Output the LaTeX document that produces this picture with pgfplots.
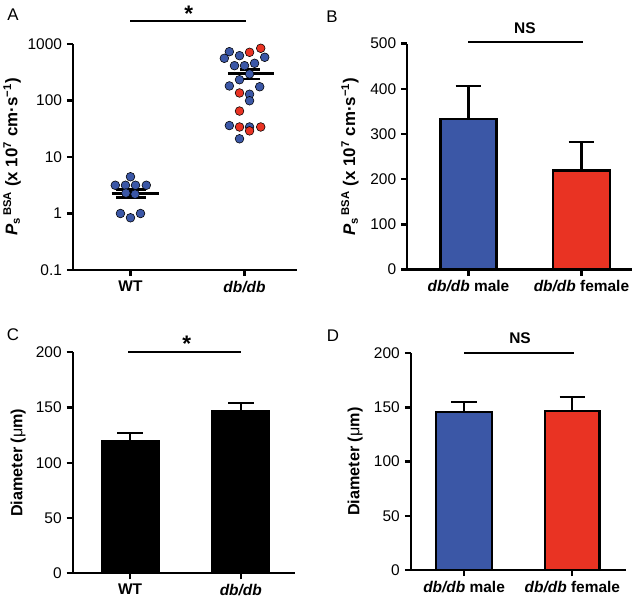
\documentclass[border=0pt]{standalone}
\usepackage{fontspec}
\setmainfont{Liberation Sans}
\usepackage{pgfplots}
\pgfplotsset{compat=1.18}
\definecolor{dbblue}{RGB}{59,87,166}
\definecolor{dbred}{RGB}{233,51,35}

\pgfplotsset{
  panel/.style={
    scale only axis,
    anchor=south west,
    axis lines=left,
    axis line style={-, line width=1.6pt},
    tick style={line width=1.6pt, black},
    tick align=outside,
    major tick length=4.3pt,
    enlargelimits=false,
    clip=false,
    xtick={1,2},
    ticklabel style={font=\fontsize{11}{13}\selectfont},
    label style={font=\fontsize{11.5}{13}\selectfont\bfseries},
    /pgf/number format/assume math mode=true,
  },
  barplot/.style={
    ybar, bar shift=0pt, draw=black, line width=1.6pt,
    /pgfplots/error bars/y dir=plus,
    /pgfplots/error bars/y explicit,
    /pgfplots/error bars/error bar style={line width=1.6pt, black},
    /pgfplots/error bars/error mark options={line width=1.6pt, black, mark size=0.32cm, rotate=90},
  },
}
\newcommand{\psbsa}{\textit{P}\textsubscript{s}\textsuperscript{\,BSA} (x 10\textsuperscript{7} cm·s\textsuperscript{−1})}
\newcommand{\dbdb}{\textbf{\textit{db/db}}}

\begin{document}
\begin{tikzpicture}
\path[use as bounding box] (0,0) rectangle (16cm,15cm);

% A
\begin{axis}[panel,
    at={(1.825cm,8.25cm)}, width=5.6cm, height=5.65cm,
    ymode=log, ymin=0.1, ymax=1000, xmin=0.496, xmax=2.46,
    ytick={0.1,1,10,100,1000}, yticklabels={0.1,1,10,100,1000},
    yminorticks=false,
    xticklabels={\textbf{WT},\dbdb},
    ylabel={\psbsa},
    ylabel style={at={(axis description cs:-0.272,0.5)}, anchor=center, font=\fontsize{12}{14}\selectfont\bfseries},
  ]
  \addplot[only marks, mark=*, mark size=3.1pt, mark options={fill=dbblue, draw=none}] coordinates {
    (1.0,4.47) (0.867,3.16) (0.956,3.16) (1.044,3.16) (1.139,3.16)
    (0.96,2.3) (1.04,2.2) (0.912,1.0) (1.088,1.0) (1.0,0.84)
    (1.867,731) (1.823,558) (1.956,621) (2.177,582) (1.912,413)
    (2.0,413) (2.088,455) (2.044,294) (1.956,233) (1.867,181)
    (2.133,175) (2.044,129) (2.044,99) (1.867,36) (2.044,34) (1.956,21)
  };
  \addplot[only marks, mark=*, mark size=3.1pt, mark options={fill=dbred, draw=none}] coordinates {
    (2.044,713) (2.142,840) (1.956,136) (1.956,65) (1.956,34) (2.044,29) (2.142,34)
  };
  \addplot[black, line width=2.2pt] coordinates {(0.835,2.3) (1.248,2.3)};
  \addplot[black, line width=2pt] coordinates {(0.872,2.66) (1.137,2.66)};
  \addplot[black, line width=2pt] coordinates {(0.872,1.9) (1.137,1.9)};
  \addplot[black, line width=2pt] coordinates {(1.0,1.9) (1.0,2.66)};
  \addplot[black, line width=2.2pt] coordinates {(1.854,303) (2.254,303)};
  \addplot[black, line width=2pt] coordinates {(1.958,356) (2.135,356)};
  \addplot[black, line width=2pt] coordinates {(1.958,240) (2.135,240)};
  \addplot[black, line width=2pt] coordinates {(2.046,240) (2.046,356)};
  \draw[line width=1.6pt] (axis cs:1,2550) -- (axis cs:2.01,2550);
  \node[anchor=base, font=\fontsize{16}{18}\selectfont\bfseries] at (axis cs:1.51,2550) {*};
\end{axis}

% B
\begin{axis}[panel,
    at={(10.18cm,8.26cm)}, width=5.61cm, height=5.65cm,
    ymin=0, ymax=500, xmin=0.458, xmax=2.444,
    ytick={0,100,200,300,400,500},
    xticklabels={\dbdb\ \textbf{male},\dbdb\ \textbf{female}},
    ylabel={\psbsa},
    ylabel style={at={(axis description cs:-0.255,0.5)}, anchor=center, font=\fontsize{12}{14}\selectfont\bfseries},
  ]
  \addplot[barplot, bar width=1.4cm, fill=dbblue] coordinates {(1,333) +- (0,74)};
  \addplot[barplot, bar width=1.44cm, fill=dbred] coordinates {(2,219) +- (0,63)};
  \draw[line width=1.6pt] (axis cs:1,503) -- (axis cs:2.018,503);
  \node[anchor=base, font=\fontsize{11}{13}\selectfont\bfseries] at (axis cs:1.50,523) {NS};
\end{axis}

% C
\begin{axis}[panel,
    at={(1.8175cm,0.6675cm)}, width=5.56cm, height=5.525cm,
    ymin=0, ymax=200, xmin=0.482, xmax=2.49,
    ytick={0,50,100,150,200},
    xticklabels={\textbf{WT},\dbdb},
    ylabel={Diameter (\textmd{μ}m)},
    ylabel style={at={(axis description cs:-0.245,0.5)}, anchor=center},
  ]
  \addplot[barplot, bar width=1.42cm, fill=black] coordinates {(1,119.7) +- (0,7)};
  \addplot[barplot, bar width=1.42cm, fill=black] coordinates {(2,147) +- (0,6.8)};
  \draw[line width=1.6pt] (axis cs:0.985,200.5) -- (axis cs:2.0,200.5);
  \node[anchor=base, font=\fontsize{16}{18}\selectfont\bfseries] at (axis cs:1.512,200.5) {*};
\end{axis}

% D
\begin{axis}[panel,
    at={(10.27cm,0.75cm)}, width=5.38cm, height=5.42cm,
    ymin=0, ymax=200, xmin=0.508, xmax=2.496,
    ytick={0,50,100,150,200},
    xticklabels={\dbdb\ \textbf{male},\dbdb\ \textbf{female}},
    ylabel={Diameter (\textmd{μ}m)},
    ylabel style={at={(axis description cs:-0.259,0.5)}, anchor=center},
  ]
  \addplot[barplot, bar width=1.39cm, fill=dbblue] coordinates {(1,146) +- (0,8.8)};
  \addplot[barplot, bar width=1.36cm, fill=dbred] coordinates {(2,146.5) +- (0,12.9)};
  \draw[line width=1.6pt] (axis cs:1,200) -- (axis cs:2.016,200);
  \node[anchor=base, font=\fontsize{11}{13}\selectfont\bfseries] at (axis cs:1.517,209) {NS};
\end{axis}

\node[font=\fontsize{12}{14}\selectfont] at (0.325cm,14.625cm) {A};
\node[font=\fontsize{12}{14}\selectfont] at (8.3cm,14.575cm) {B};
\node[font=\fontsize{12}{14}\selectfont] at (0.325cm,6.625cm) {C};
\node[font=\fontsize{12}{14}\selectfont] at (8.325cm,6.6cm) {D};
\end{tikzpicture}
\end{document}
